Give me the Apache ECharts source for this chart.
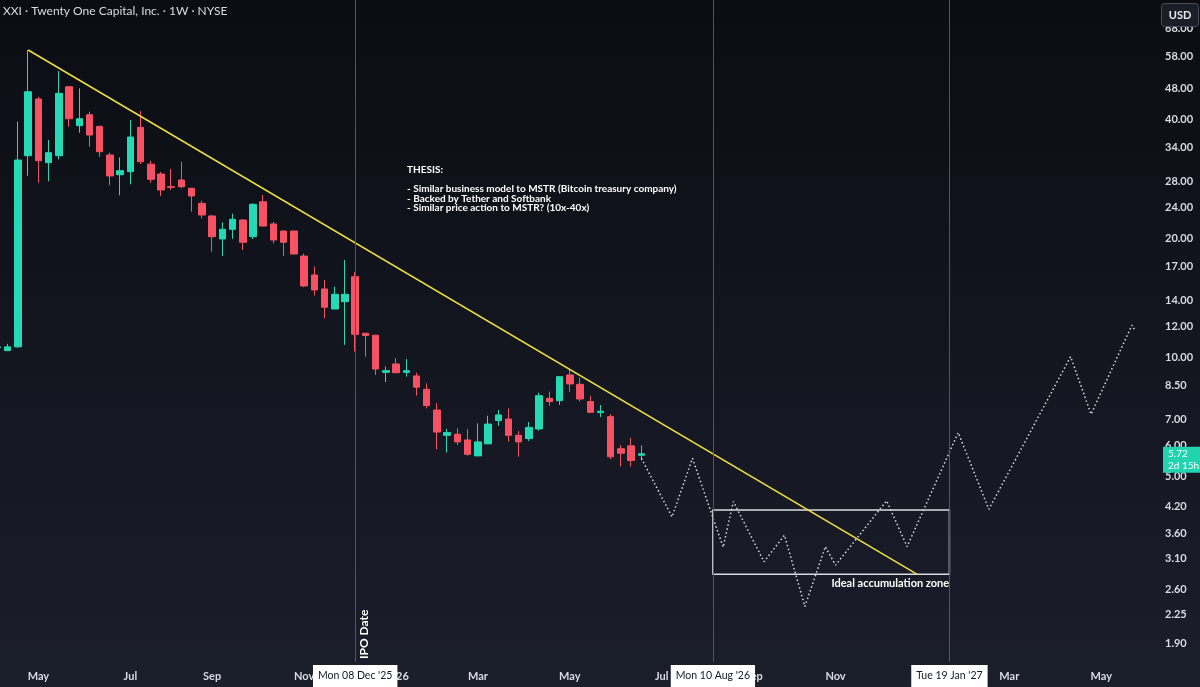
<!DOCTYPE html>
<html><head><meta charset="utf-8">
<script src="https://cdn.jsdelivr.net/npm/echarts@6/dist/echarts.min.js"></script>
<style>html,body{margin:0;padding:0;background:#0c0e14;}#c{width:1200px;height:687px;}</style>
</head><body><div id="c"></div>
<script>
// ---- data ----
const weeks = ['2025-04-07','2025-04-14','2025-04-21','2025-04-28','2025-05-05','2025-05-12','2025-05-19','2025-05-26',
 '2025-06-02','2025-06-09','2025-06-16','2025-06-23','2025-06-30','2025-07-07','2025-07-14','2025-07-21','2025-07-28',
 '2025-08-04','2025-08-11','2025-08-18','2025-08-25','2025-09-01','2025-09-08','2025-09-15','2025-09-22','2025-09-29',
 '2025-10-06','2025-10-13','2025-10-20','2025-10-27','2025-11-03','2025-11-10','2025-11-17','2025-11-24','2025-12-01',
 '2025-12-08','2025-12-15','2025-12-22','2025-12-29','2026-01-05','2026-01-12','2026-01-19','2026-01-26','2026-02-02',
 '2026-02-09','2026-02-16','2026-02-23','2026-03-02','2026-03-09','2026-03-16','2026-03-23','2026-03-30','2026-04-06',
 '2026-04-13','2026-04-20','2026-04-27','2026-05-04','2026-05-11','2026-05-18','2026-05-25','2026-06-01','2026-06-08',
 '2026-06-15','2026-06-22'];
const open  = [10.62,10.43,10.66,32.45,45.15,31.16,32.45,48.50,38.64,41.20,38.51,32.59,29.05,29.57,38.28,30.90,29.17,
 27.09,28.17,26.85,24.59,22.85,19.98,21.14,22.32,20.25,24.82,21.81,20.93,20.93,18.09,16.20,14.94,13.29,13.87,
 16.04,11.54,11.41,9.19,9.65,9.19,9.00,8.33,7.38,6.37,6.41,6.20,5.65,6.06,6.94,7.00,6.37,6.25,6.61,7.90,7.79,
 9.05,8.57,7.75,7.27,7.10,5.89,5.99,5.67];
const close = [10.66,10.66,31.65,47.11,31.52,33.03,46.67,40.25,40.25,36.61,33.22,28.84,29.74,36.18,31.34,28.28,26.58,
 26.99,27.09,25.67,22.98,20.25,21.14,22.41,19.60,24.45,21.55,19.86,19.60,18.31,15.20,14.85,13.43,14.48,14.48,
 11.47,11.39,9.37,9.28,9.17,9.28,8.43,7.57,6.49,6.47,6.13,5.70,6.13,6.80,7.17,6.37,6.13,6.67,8.02,7.75,8.96,
 8.59,7.87,7.28,7.33,5.62,5.74,5.50,5.72];
const low   = [10.58,10.43,10.60,28.88,27.73,27.96,31.78,38.42,37.10,34.20,32.26,27.31,25.77,27.47,30.92,27.73,25.67,
 26.58,26.85,23.43,22.54,18.56,18.09,19.98,18.74,19.97,21.47,19.48,18.09,18.30,15.09,14.37,12.59,13.28,10.78,
 10.37,10.07,9.05,8.68,9.16,8.96,8.02,7.45,5.87,5.76,6.02,5.66,5.64,6.05,6.73,6.14,5.62,6.16,6.54,7.56,7.60,
 8.21,7.75,7.27,7.08,5.54,5.31,5.31,5.50];
const high  = [10.72,10.85,39.56,60.06,45.70,35.56,53.15,48.60,48.05,41.94,38.60,33.03,32.13,39.95,42.10,31.52,29.52,
 30.03,31.34,26.90,24.97,22.98,22.02,23.16,22.40,24.59,25.82,22.06,21.00,20.95,18.35,17.00,15.74,15.14,17.68,
 16.47,11.55,11.42,9.51,9.98,9.93,9.17,8.62,7.68,6.61,6.64,6.61,6.83,7.14,7.38,7.45,6.53,6.88,8.16,8.21,8.98,
 9.32,8.91,8.02,7.60,7.21,6.02,6.28,6.00];
const lastPrice = 5.72;
const lastPriceNote = '2d 15h';

const projDates  = ['2026-06-22','2026-07-13','2026-07-27','2026-08-17','2026-08-24','2026-09-14','2026-09-28','2026-10-12',
 '2026-10-26','2026-11-02','2026-12-07','2026-12-21','2027-01-25','2027-02-15','2027-04-12','2027-04-26','2027-05-24','2027-05-26'];
const projValues = [5.57,3.96,5.57,3.32,4.33,3.05,3.56,2.35,3.33,2.99,4.35,3.33,6.47,4.14,10.07,7.20,12.10,11.76];

const trendDates  = ['2025-04-28','2026-12-28'];
const trendValues = [60.06, 2.835];

const zoneDates  = ['2026-08-10','2027-01-19'];
const zoneValues = [4.121, 2.835];
const zoneLabel  = 'Ideal accumulation zone';

const eventDates  = ['2025-12-08','2026-08-10','2027-01-19'];
const eventLabels = ["Mon 08 Dec '25","Mon 10 Aug '26","Tue 19 Jan '27"];
const eventNotes  = ['IPO Date','',''];

const yTicks = [1.9,2.25,2.6,3.1,3.6,4.2,5,6,7,8.5,10,12,14,17,20,24,28,34,40,48,58,68];
const xTickDates  = ['2025-05-05','2025-07-07','2025-09-01','2025-11-03','2026-01-05','2026-03-02','2026-05-04',
 '2026-07-06','2026-09-07','2026-11-02','2027-01-04','2027-03-01','2027-05-03'];
const xTickLabels = ['May','Jul','Sep','Nov','2026','Mar','May','Jul','Sep','Nov','2027','Mar','May'];

const titleText = 'XXI · Twenty One Capital, Inc. · 1W · NYSE';
const thesisLines = ['THESIS:','','- Similar business model to MSTR (Bitcoin treasury company)','- Backed by Tether and Softbank','- Similar price action to MSTR? (10x-40x)'];

// ---- chart ----
const T = s => Date.parse(s.length > 10 ? s : s + 'T00:00:00Z');
const UP = '#25d9b4', DOWN = '#f75264';
const FONT = 'Lato, "Open Sans", sans-serif';
const TXT = '#d8dbe2';
const xTickNums = xTickDates.map(T);

const chart = echarts.init(document.getElementById('c'), null, {renderer:'canvas'});
chart.setOption({
  animation: false,
  backgroundColor: {type:'linear', x:0, y:0, x2:0, y2:1,
    colorStops:[{offset:0, color:'#0b0d13'},{offset:1, color:'#1b1e2b'}]},
  grid: {left:0, right:50, top:0, bottom:25},
  xAxis: {
    type:'value', scale:true,
    min: T('2025-04-08T17:05:00Z'), max: T('2027-06-05T09:00:00Z'),
    axisLine:{show:false}, axisTick:{show:false}, splitLine:{show:false},
    axisLabel:{customValues: xTickNums, color:TXT, fontFamily:FONT, fontSize:11, fontWeight:'bold', margin:9,
      showMinLabel:true, showMaxLabel:true, hideOverlap:false,
      formatter: v => { const i = xTickNums.indexOf(v); return i >= 0 ? xTickLabels[i] : ''; }}
  },
  yAxis: {
    type:'log', position:'right', min:1.701, max:80.37,
    axisLine:{show:false}, axisTick:{show:false}, splitLine:{show:false},
    axisLabel:{customValues: yTicks, color:TXT, fontFamily:FONT, fontSize:11, fontWeight:'bold', margin:15, align:'left',
      formatter: v => (+v).toFixed(2)}
  },
  series: [
    {
      type:'candlestick', name:'XXI', z:3,
      data: weeks.map((d,i) => [T(d), open[i], close[i], low[i], high[i]]),
      barWidth: 7,
      itemStyle:{color:UP, color0:DOWN, borderColor:UP, borderColor0:DOWN, borderWidth:1},
      markLine:{silent:true, symbol:'none',
        data:[{yAxis:lastPrice, lineStyle:{color:'transparent', width:0},
          label:{show:true, position:'end', distance:12, offset:[1,6],
            formatter: () => lastPrice.toFixed(2) + '\n' + lastPriceNote,
            backgroundColor:'#22d3b0', color:'#ffffff', fontFamily:FONT, fontSize:10, lineHeight:12.5,
            padding:[0,3,1,5], align:'left'}}]}
    },
    {
      type:'line', name:'trend', z:4, silent:true, symbol:'none',
      data: trendDates.map((d,i) => [T(d), trendValues[i]]),
      lineStyle:{color:'#efe040', width:1.5}
    },
    {
      type:'line', name:'projection', z:4, silent:true, symbol:'none',
      data: projDates.map((d,i) => [T(d), projValues[i]]),
      lineStyle:{color:'#d9dbe0', width:1.5, type:[1.5,2.5]},
      markArea:{silent:true,
        itemStyle:{color:'rgba(0,0,0,0)', borderColor:'#d9dbe0', borderWidth:1.5},
        label:{show:true, position:'insideBottomRight', distance:1, offset:[0,15], formatter: zoneLabel,
          color:'#ffffff', fontFamily:FONT, fontSize:11, fontWeight:'bold'},
        data:[[{xAxis:T(zoneDates[0]), yAxis:zoneValues[0]},{xAxis:T(zoneDates[1]), yAxis:zoneValues[1]}]]},
      markLine:{silent:true, symbol:'none',
        lineStyle:{color:'#535662', width:1, type:'solid'},
        data: eventDates.map((d,i) => ({xAxis:T(d),
          label:{show:true, position:'start', distance:3, formatter: eventLabels[i],
            backgroundColor:'#ffffff', color:'#131722', fontFamily:FONT, fontSize:10.5, padding:[5,5,6,5]}}))
          .concat(eventDates.map((d,i) => ({xAxis:T(d),
          label:{show: true, position:'insideStartBottom', distance:3, formatter: eventNotes[i],
            color:'#ffffff', fontFamily:FONT, fontSize:12, fontWeight:'bold'}})).filter((e,i)=>eventNotes[i]))}
    }
  ],
  graphic: [
    {type:'text', left:3, top:5, z:100, style:{text:titleText, fill:TXT, font:'12px ' + FONT}},
    {type:'text', left:407, top:165, z:100, style:{text:thesisLines.join('\n'), fill:'#ffffff', font:'bold 10px ' + FONT, lineHeight:9.5}},
    {type:'rect', left:1161, top:3, z:100, shape:{width:37, height:23, r:3},
      style:{fill:'#1b1e27', stroke:'#4a4e58', lineWidth:1},
      textContent:{style:{text:'USD', fill:'#e6e8ee', font:'bold 11px ' + FONT}, z:101},
      textConfig:{position:'inside'}}
  ]
});
</script></body></html>
